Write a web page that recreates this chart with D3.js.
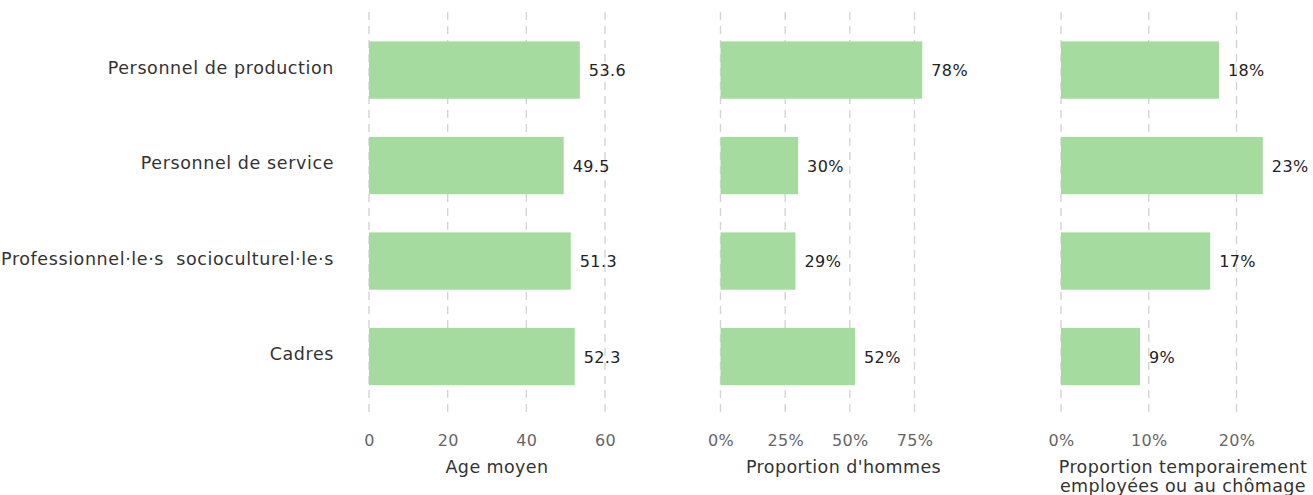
<!DOCTYPE html>
<html>
<head>
<meta charset="utf-8">
<script src="https://cdn.jsdelivr.net/npm/d3@7"></script>
<style>
  body { margin: 0; background: #fff; }
  svg text { font-family: "DejaVu Sans", "Open Sans", sans-serif; }
</style>
</head>
<body>
<div id="chart"></div>
<script>
// categories, top to bottom
const categories = ["Personnel de production", "Personnel de service", "Professionnel\u00b7le\u00b7s  socioculturel\u00b7le\u00b7s", "Cadres"];

// one series per facet
const ageMoyen = [53.6, 49.5, 51.3, 52.3];
const propHommes = [0.78, 0.30, 0.29, 0.52];
const propTempo = [0.18, 0.23, 0.17, 0.09];

const ticksAge = [0, 20, 40, 60];
const ticksHommes = [0, 0.25, 0.5, 0.75];
const ticksTempo = [0, 0.1, 0.2];

const titleAge = ["Age moyen"];
const titleHommes = ["Proportion d'hommes"];
const titleTempo = ["Proportion temporairement", "employ\u00e9es ou au ch\u00f4mage"];

(function () {
    const width = 1313, height = 495;
    const svg = d3.select("#chart").append("svg")
        .attr("width", width)
        .attr("height", height);

    // shared band scale for the rows (ggplot-like 0.6 expansion)
    const y = d3.scaleBand()
        .domain(categories)
        .range([22.3, 404.3])
        .paddingInner(0.4)
        .paddingOuter(0.2);
    const panelTop = 12, panelBottom = 415;

    // category labels
    svg.append("g").selectAll("text")
        .data(categories)
        .enter().append("text")
        .attr("x", 334)
        .attr("y", d => y(d) + y.bandwidth() / 2)
        .attr("dy", "0.2em")
        .attr("text-anchor", "end")
        .attr("font-size", "17.5px")
        .attr("letter-spacing", "0.6px")
        .attr("fill", "#333")
        .style("white-space", "pre")
        .text(d => d);

    const pct = d3.format(".0%");

    const panels = [
        { values: ageMoyen, ticks: ticksAge, domain: [0, 60], range: [369, 605], fmt: d3.format("d"), lab: d3.format(".1f"), title: titleAge, titleX: 497 },
        { values: propHommes, ticks: ticksHommes, domain: [0, 0.75], range: [720.5, 914.5], fmt: pct, lab: pct, title: titleHommes, titleX: 843.5 },
        { values: propTempo, ticks: ticksTempo, domain: [0, 0.2], range: [1061, 1236.5], fmt: pct, lab: pct, title: titleTempo, titleX: 1183 }
    ];

    panels.forEach(function (p) {
        const x = d3.scaleLinear().domain(p.domain).range(p.range);
        const g = svg.append("g");

        // dashed vertical gridlines
        g.append("g").selectAll("line")
            .data(p.ticks)
            .enter().append("line")
            .attr("x1", d => x(d)).attr("x2", d => x(d))
            .attr("y1", panelTop).attr("y2", panelBottom)
            .attr("stroke", "#d4d4d4")
            .attr("stroke-width", 1.4)
            .attr("stroke-dasharray", "8,6");

        // bars
        g.append("g").selectAll("rect")
            .data(p.values)
            .enter().append("rect")
            .attr("x", x(0))
            .attr("y", (d, i) => y(categories[i]))
            .attr("width", d => x(d) - x(0))
            .attr("height", y.bandwidth())
            .attr("fill", "#a6dba0");

        // value labels
        g.append("g").selectAll("text")
            .data(p.values)
            .enter().append("text")
            .attr("x", d => x(d) + 9)
            .attr("y", (d, i) => y(categories[i]) + y.bandwidth() / 2)
            .attr("dy", "0.4em")
            .attr("font-size", "16px")
            .attr("letter-spacing", "0.4px")
            .attr("fill", "#222")
            .text(d => p.lab(d));

        // bottom axis, no line or ticks
        const axis = d3.axisBottom(x).tickValues(p.ticks).tickFormat(p.fmt).tickSize(0).tickPadding(0);
        const ax = g.append("g")
            .attr("transform", "translate(0,435)")
            .call(axis);
        ax.select(".domain").remove();
        ax.selectAll("text")
            .attr("font-size", "16px")
            .attr("letter-spacing", "0.3px")
            .attr("fill", "#666")
            .attr("dy", "0.7em");

        // axis title
        g.append("text")
            .attr("x", p.titleX)
            .attr("y", 473)
            .attr("text-anchor", "middle")
            .attr("font-size", "17.5px")
            .attr("letter-spacing", "0.4px")
            .attr("fill", "#333")
            .selectAll("tspan")
            .data(p.title)
            .enter().append("tspan")
            .attr("x", p.titleX)
            .attr("dy", (d, i) => i === 0 ? 0 : "1.08em")
            .text(d => d);
    });
})();
</script>
</body>
</html>
